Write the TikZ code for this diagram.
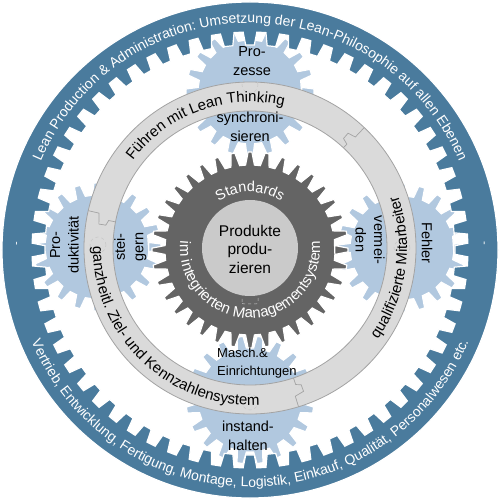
\documentclass[tikz,border=0pt]{standalone}
\usepackage{fontspec}
\setmainfont{Liberation Sans}
\usetikzlibrary{decorations.text}
\definecolor{ringblue}{HTML}{4A7B9D}
\definecolor{lightgear}{HTML}{B1C8DF}
\definecolor{darkgear}{HTML}{646464}
\definecolor{bandfill}{HTML}{DADADA}
\definecolor{bandline}{HTML}{A3A3A3}
\definecolor{hubfill}{HTML}{CACACA}
% N, r root, r tip, phase, root half-width, tip half-width (fractions of pitch)
\newcommand\gearpath[6]{({#4-#5*(360/#1)}:#2pt) \foreach \k in {1,...,#1}{ -- ({#4+(\k-#5)*(360/#1)}:#2pt) -- ({#4+(\k-#6)*(360/#1)}:#3pt) -- ({#4+(\k+#6)*(360/#1)}:#3pt) -- ({#4+(\k+#5)*(360/#1)}:#2pt)} -- cycle}
\tikzset{
  lgear/.style={fill=lightgear, draw=white, line width=1.2pt},
  geartext/.style={font=\fontsize{14.5}{18.5}\selectfont, align=center, inner sep=0pt, text=black},
  jointline/.style={draw=bandline, line width=0.7pt},
  centermark/.style={draw=gray!45, dashed, line width=0.5pt},
  arctext/.style={decorate, decoration={text along path, text align=center, text color=#1}},
}
\begin{document}
\begin{tikzpicture}[x=1pt,y=1pt]
\fill[white] (-250,-250) rectangle (250,250);
\useasboundingbox (-250,-250) rectangle (250,250);
% light blue gears
\fill[lgear, shift={(0,158)}] \gearpath{20}{52}{64}{0}{0.28}{0.15};
\fill[lgear, shift={(0,-150)}] \gearpath{20}{52}{64}{9}{0.28}{0.15};
\fill[lgear, shift={(-153,3)}] \gearpath{20}{52}{64}{0}{0.28}{0.15};
\fill[lgear, shift={(152,2)}] \gearpath{20}{52}{64}{0}{0.28}{0.15};
% outer ring with inner teeth
\fill[ringblue, draw=white, line width=1.2pt, even odd rule] (0,0) circle[radius=248pt] \gearpath{60}{205}{218}{3}{0.30}{0.20};
% band
\fill[bandfill, draw=bandline, line width=0.8pt, even odd rule, shift={(0,2)}] (0,0) circle[radius=166pt] (0,0) circle[radius=137pt];
% joints of the band
\begin{scope}[shift={(0,2)}]
\draw[jointline] (46.5:166pt) -- (46.5:153pt) -- (49.5:151pt) -- (49.5:144pt) -- (47:142pt) -- (47:137pt);
\draw[jointline] (167:166pt) -- (167:155pt) -- (171:153pt) -- (171:146pt) -- (169:144pt) -- (169:137pt);
\draw[jointline] (287:166pt) -- (287:155pt) -- (290.5:153pt) -- (290.5:146pt) -- (288.5:144pt) -- (288.5:137pt);
\end{scope}
% faint centre marks of the gears
\draw[centermark] (0,165) circle[radius=8pt];
\draw[centermark] (0,-152) circle[radius=8pt];
\draw[centermark] (-152,5) circle[radius=8pt];
\draw[centermark] (152,2) circle[radius=8pt];
% dark gear
\fill[darkgear, draw=white, line width=1.2pt] \gearpath{36}{85}{98}{0}{0.30}{0.11};
\fill[hubfill] (0,2) circle[radius=48pt];
\draw[centermark, rounded corners=2pt] (-8,-54) rectangle (8,-42);
% arc texts on the outer ring
\path[arctext=white, decoration={text={|\fontsize{14}{16}\selectfont|Lean Production {\&} Administration: Umsetzung der Lean-Philosophie auf allen Ebenen}}] (175:227pt) arc[start angle=175, end angle=5, radius=227pt];
\path[arctext=white, decoration={text={|\fontsize{14}{16}\selectfont|Vertrieb, Entwicklung, Fertigung, Montage, Logistik, Einkauf, Qualität, Personalwesen etc.}}] (185:237pt) arc[start angle=185, end angle=355, radius=237pt];
\node[font=\fontsize{11}{12}\selectfont, text=white, rotate=90, inner sep=0pt] (dashL) at (-232,6) {-};
\node[font=\fontsize{11}{12}\selectfont, text=white, rotate=-90, inner sep=0pt] (dashR) at (233,7) {-};
% arc texts on the band
\begin{scope}[shift={(0,2)}]
\path[arctext=black, decoration={text={|\fontsize{15}{17}\selectfont|Führen mit Lean Thinking}}] (165:146pt) arc[start angle=165, end angle=55, radius=146pt];
\path[arctext=black, decoration={text={|\fontsize{15}{17}\selectfont|qualifizierte Mitarbeiter}}] (-58:157pt) arc[start angle=-58, end angle=42, radius=157pt];
\path[arctext=black, decoration={text={|\fontsize{15}{17}\selectfont|ganzheitl. Ziel- und Kennzahlensystem}}] (150:157pt) arc[start angle=150, end angle=303, radius=157pt];
\end{scope}
% arc texts on the dark gear
\begin{scope}[shift={(0,2)}]
\path[arctext=white, decoration={text={|\fontsize{14.5}{16}\selectfont|Standards}}] (150:56pt) arc[start angle=150, end angle=30, radius=56pt];
\path[arctext=white, decoration={text={|\fontsize{15}{17}\selectfont|im integrierten Managementsystem}}] (110:70pt) arc[start angle=110, end angle=430, radius=70pt];
\end{scope}
% gear texts
\node[geartext] (prozesse) at (2,189) {Pro-\\zesse};
\node[geartext] (synchro) at (0,123) {synchroni-\\sieren};
\node[geartext, font=\fontsize{13}{18}\selectfont, align=left, anchor=west] (masch) at (-33,-113) {Masch.\&\\Einrichtungen};
\node[geartext] (instand) at (-2,-186) {instand-\\halten};
\node[geartext, rotate=90] (produkt) at (-185.5,5) {Pro-\\duktivität};
\node[geartext, rotate=90] (steigern) at (-119.5,3) {stei-\\gern};
\node[geartext, rotate=-90] (vermeiden) at (120,10) {vermei-\\den};
\node[geartext, rotate=-90] (fehler) at (177,7) {Fehler};
\node[geartext, font=\fontsize{15.5}{18.5}\selectfont] (produkte) at (0,1) {Produkte\\produ-\\zieren};
\end{tikzpicture}
\end{document}
